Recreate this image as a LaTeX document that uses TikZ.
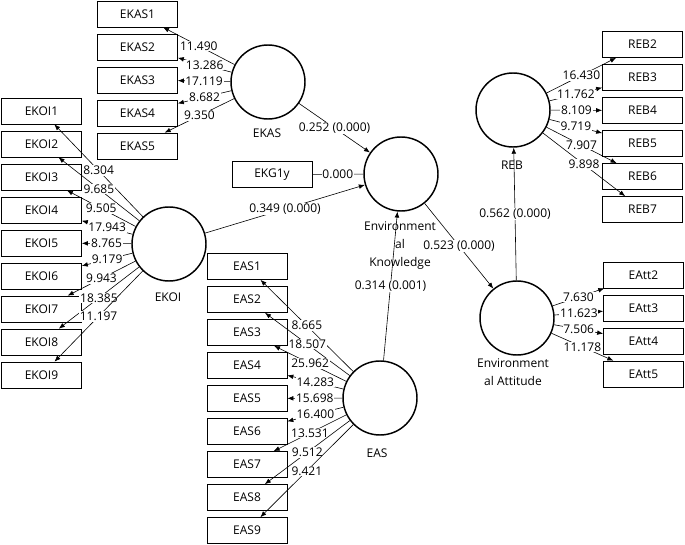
\documentclass[tikz,border=0pt]{standalone}
\usepackage{fontspec}
\setmainfont{Open Sans}
\usetikzlibrary{arrows.meta}
\tikzset{
  lv/.style={circle,draw,line width=1.1pt,minimum size=55.5pt,inner sep=0pt},
  mv/.style={rectangle,draw,line width=0.5pt,minimum width=60pt,minimum height=19.5pt,inner sep=0pt},
  ld/.style={fill=white,inner sep=0.6pt},
  pa/.style={-{Latex[length=4.5pt,width=3.5pt]},line width=0.45pt},
}
\begin{document}
\begin{tikzpicture}[x=0.75pt,y=-0.75pt,font=\fontsize{9}{13.5}\selectfont]
\useasboundingbox (0,0) rectangle (685,545);
% latent variables
\node[lv](ekas) at (268,82){};
\node[lv](ek) at (401,174){};
\node[lv](ekoi) at (169,244){};
\node[lv](eas) at (380,398){};
\node[lv](reb) at (513,110){};
\node[lv](eatt) at (517,318){};
\node(ekaslab) at (267,133){EKAS};
\node(ekoilab) at (168,297){EKOI};
\node(easlab) at (377,453){EAS};
\node(reblab) at (512,165){REB};
\node[align=center](eklab) at (400,246){Environment\\al\\Knowledge};
\node[align=center](eattlab) at (513,372){Environment\\al Attitude};
% indicators
\foreach \i/\v in {1/11.490,2/13.286,3/17.119,4/8.682,5/9.350}{\node[mv](ekas\i) at (137.5,{14+33*(\i-1)}){EKAS\i}; \draw[pa](ekas)--node[ld]{\v}(ekas\i);}
\foreach \i/\v in {1/8.304,2/9.685,3/9.505,4/17.943,5/8.765,6/9.179,7/9.943,8/18.385,9/11.197}{\node[mv](ekoi\i) at (41.5,{111+33*(\i-1)}){EKOI\i}; \draw[pa](ekoi)--node[ld]{\v}(ekoi\i);}
\foreach \i/\v in {1/8.665,2/18.507,3/25.962,4/14.283,5/15.698,6/16.400,7/13.531,8/9.512,9/9.421}{\node[mv](eas\i) at (247,{266.5+33*(\i-1)}){EAS\i}; \draw[pa](eas)--node[ld]{\v}(eas\i);}
\foreach \i/\v in {2/16.430,3/11.762,4/8.109,5/9.719,6/7.907,7/9.898}{\node[mv](reb\i) at (642.5,{44.5+33*(\i-2)}){REB\i}; \draw[pa](reb)--node[ld]{\v}(reb\i);}
\foreach \i/\v in {2/7.630,3/11.623,4/7.506,5/11.178}{\node[mv](eatt\i) at (643.5,{275+33*(\i-2)}){EAtt\i}; \draw[pa](eatt)--node[ld]{\v}(eatt\i);}
\node[mv](ekg) at (272,174.5){EKG1y};
\draw[line width=0.45pt](ekg)--node[ld]{0.000}(ek);
% paths
\draw[pa](ekas)--node[ld]{0.252 (0.000)}(ek);
\draw[pa](ekoi)--node[ld]{0.349 (0.000)}(ek);
\draw[pa](eas)--node[ld]{0.314 (0.001)}(ek);
\draw[pa](ek)--node[ld]{0.523 (0.000)}(eatt);
\draw[pa](eatt)--node[ld]{0.562 (0.000)}(reb);
\end{tikzpicture}
\end{document}
